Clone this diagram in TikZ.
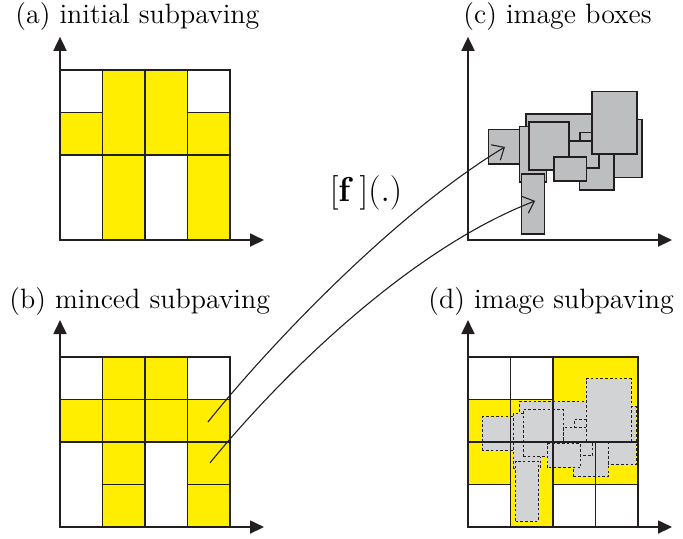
\documentclass[tikz,border=0pt]{standalone}
\usepackage{amsmath}
\usepackage{tikz}
\usetikzlibrary{arrows.meta}

\definecolor{paveyellow}{RGB}{255,238,0}
\definecolor{boxgray}{RGB}{188,190,192}
\definecolor{setgray}{RGB}{209,211,212}
\definecolor{ink}{RGB}{35,31,32}

% image boxes, in cell units of the panel
\newcommand{\imageboxes}[1]{%
    \draw[#1] (1.36,2.04) rectangle (2.99,2.96);
    \draw[#1] (3.30,1.47) rectangle (4.10,2.84);
    \draw[#1] (2.62,1.18) rectangle (3.44,2.20);
    \draw[#1] (2.64,2.20) rectangle (2.99,2.53);
    \draw[#1] (2.38,1.69) rectangle (3.08,2.33);
    \draw[#1] (1.21,1.37) rectangle (1.85,2.67);
    \draw[#1] (0.48,1.79) rectangle (1.21,2.60);
    \draw[#1] (1.44,1.65) rectangle (2.38,2.77);
    \draw[#1] (2.02,1.39) rectangle (2.79,1.96);
    \draw[#1] (2.92,2.02) rectangle (3.98,3.49);
    \draw[#1] (1.26,0.14) rectangle (1.80,1.55);
}

\begin{document}
\begin{tikzpicture}[x=0.5pt, y=-0.5pt]

        % Styles
        \tikzstyle{axis} = [{Triangle[length=7pt,width=6.5pt]}-{Triangle[length=7pt,width=6.5pt]}, line width=0.9pt, ink]
        \tikzstyle{cell} = [draw=ink, line width=0.75pt, fill=white]
        \tikzstyle{incell} = [cell, fill=paveyellow]
        \tikzstyle{imgbox} = [draw=ink, line width=0.8pt, fill=boxgray]
        \tikzstyle{imgset} = [draw=ink, line width=0.5pt, dash pattern=on 1.3pt off 1.1pt, fill=setgray]
        \tikzstyle{maparrow} = [-{Straight Barb[length=5pt,width=9pt]}, line width=0.55pt, ink]
        \tikzstyle{caption} = [anchor=base west, inner sep=0pt, font=\fontsize{14}{17}\selectfont]
        \tikzstyle{panel} = [x=21.25pt, y=21.25pt]

        \useasboundingbox (0,0) rectangle (683,538);

        % (a) initial subpaving
        \node[caption] (capa) at (15,23) {(a) initial subpaving};
        \begin{scope}[shift={(60,240)}, panel]
            \draw[cell] (0,3) rectangle (1,4);
            \draw[incell] (0,2) rectangle (1,3);
            \draw[incell] (1,2) rectangle (2,4);
            \draw[incell] (2,2) rectangle (3,4);
            \draw[cell] (3,3) rectangle (4,4);
            \draw[incell] (3,2) rectangle (4,3);
            \draw[cell] (0,0) rectangle (1,2);
            \draw[incell] (1,0) rectangle (2,2);
            \draw[cell] (2,0) rectangle (3,2);
            \draw[incell] (3,0) rectangle (4,2);
            \draw[axis] (0,4.78) -- (0,0) -- (4.8,0);
        \end{scope}

        % (b) minced subpaving
        \node[caption] (capb) at (9,308) {(b) minced subpaving};
        \begin{scope}[shift={(60,527)}, panel]
            \draw[cell] (0,3) rectangle (1,4);
            \draw[incell] (1,3) rectangle (2,4);
            \draw[incell] (2,3) rectangle (3,4);
            \draw[cell] (3,3) rectangle (4,4);
            \foreach \i in {0,...,3}
                \draw[incell] (\i,2) rectangle ++(1,1);
            \draw[cell] (0,0) rectangle (1,2);
            \draw[incell] (1,1) rectangle (2,2);
            \draw[incell] (1,0) rectangle (2,1);
            \draw[cell] (2,0) rectangle (3,2);
            \draw[incell] (3,1) rectangle (4,2);
            \draw[incell] (3,0) rectangle (4,1);
            \draw[axis] (0,4.87) -- (0,0) -- (4.8,0);
            \coordinate (m1) at (3.48,2.47);
            \coordinate (m2) at (3.53,1.51);
        \end{scope}

        % (c) image boxes
        \node[caption] (capc) at (463,23) {(c) image boxes};
        \begin{scope}[shift={(468,240)}, panel]
            \imageboxes{imgbox}
            \draw[axis] (0,4.78) -- (0,0) -- (4.8,0);
            \coordinate (n1) at (0.87,2.19);
            \coordinate (n2) at (1.58,0.92);
        \end{scope}

        % (d) image subpaving
        \node[caption] (capd) at (428,308) {(d) image subpaving};
        \begin{scope}[shift={(468,527)}, panel]
            \draw[cell] (0,3) rectangle (1,4);
            \draw[cell] (1,3) rectangle (2,4);
            \draw[incell] (2,2) rectangle (4,4);
            \draw[incell] (0,2) rectangle (1,3);
            \draw[incell] (1,2) rectangle (2,3);
            \draw[incell] (0,1) rectangle (1,2);
            \draw[incell] (1,0) rectangle (2,2);
            \draw[incell] (2,1) rectangle (3,2);
            \draw[incell] (3,1) rectangle (4,2);
            \draw[cell] (0,0) rectangle (1,1);
            \draw[cell] (2,0) rectangle (3,1);
            \draw[cell] (3,0) rectangle (4,1);
            \begin{scope}[xshift=-3pt]
                \imageboxes{imgset}
            \end{scope}
            \draw[ink, line width=0.75pt] (0,2) -- (4,2) (0,3) -- (2,3)
                (1,0) -- (1,4) (2,0) -- (2,4) (3,0) -- (3,2);
            \draw[axis] (0,4.87) -- (0,0) -- (4.8,0);
        \end{scope}

        % Mapping by the inclusion function
        \node[font=\fontsize{18}{21}\selectfont, anchor=base] (fmap) at (366,201) {$[\mathbf{f}\,](.)$};
        \draw[maparrow] (m1) .. controls +(60,-75) and +(-110,66) .. (n1);
        \draw[maparrow] (m2) .. controls +(65,-80) and +(-130,50) .. (n2);

    \end{tikzpicture}
\end{document}
